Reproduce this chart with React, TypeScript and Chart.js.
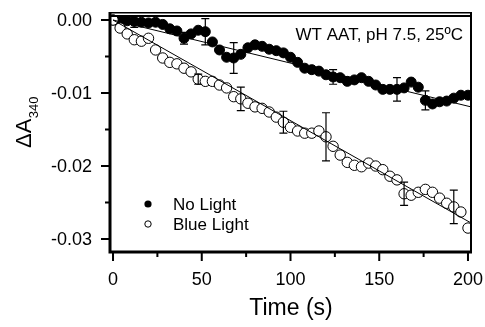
import React, { useEffect, useRef } from 'react';
import { Chart, registerables } from 'chart.js';

Chart.register(...registerables);

const times = [0, 4, 8, 12, 16, 20, 24, 28, 32, 36, 40, 44, 48, 52, 56, 60, 64, 68, 72, 76, 80, 84, 88, 92, 96, 100, 104, 108, 112, 116, 120, 124, 128, 132, 136, 140, 144, 148, 152, 156, 160, 164, 168, 172, 176, 180, 184, 188, 192, 196, 200];
const noLight = [0, -0.0001, -0.0001, -0.0002, -0.0003, -0.0004, -0.0003, -0.0006, -0.0012, -0.0015, -0.0025, -0.0019, -0.0014, -0.0016, -0.0030, -0.0041, -0.0051, -0.0052, -0.0047, -0.0038, -0.0034, -0.0036, -0.0040, -0.0042, -0.0045, -0.0051, -0.0058, -0.0066, -0.0068, -0.0070, -0.0075, -0.0078, -0.0079, -0.0084, -0.0082, -0.0079, -0.0084, -0.0089, -0.0095, -0.0095, -0.0095, -0.0093, -0.0085, -0.0092, -0.0110, -0.0115, -0.0112, -0.0111, -0.0107, -0.0103, -0.0103];
const blueLight = [0, -0.0011, -0.0019, -0.0027, -0.0029, -0.0025, -0.0041, -0.0052, -0.0058, -0.0060, -0.0066, -0.0071, -0.0081, -0.0084, -0.0084, -0.0089, -0.0093, -0.0105, -0.0108, -0.0114, -0.0119, -0.0121, -0.0126, -0.0133, -0.0140, -0.0147, -0.0152, -0.0155, -0.0155, -0.0152, -0.0160, -0.0173, -0.0185, -0.0195, -0.0199, -0.0201, -0.0196, -0.0200, -0.0205, -0.0214, -0.0219, -0.0238, -0.0240, -0.0236, -0.0232, -0.0236, -0.0244, -0.0251, -0.0256, -0.0263, -0.0285];

const noLightErrTimes = [12, 40, 52, 68, 124, 160, 176];
const noLightErr = [0.0008, 0.0008, 0.0018, 0.0021, 0.001, 0.0016, 0.0013];
const blueErrTimes = [48, 72, 96, 120, 164, 192];
const blueErr = [0.0007, 0.0016, 0.0015, 0.0033, 0.0016, 0.0023];

const fitTimes = [0, 201.7];
const noLightFit = [0, -0.0119];
const blueFit = [0, -0.0278];

const xTicks = [0, 50, 100, 150, 200];
const xMinorTicks = [25, 75, 125, 175];
const yTicks = [0, -0.01, -0.02, -0.03];
const yMinorTicks = [-0.005, -0.015, -0.025];

const seriesNames = ['No Light', 'Blue Light'];
const annotation = 'WT AAT, pH 7.5, 25ºC';
const xTitle = 'Time (s)';
const yTitleMain = 'ΔA';
const yTitleSub = '340';

const FONT = "'Liberation Sans', Arial, sans-serif";

export default function App() {
  const ref = useRef<HTMLCanvasElement | null>(null);

  useEffect(() => {
    const canvas = ref.current;
    if (!canvas) return;

    const decor = {
      id: 'decor',
      afterDatasetsDraw(chart: any) {
        const { ctx, chartArea, scales } = chart;
        const xs = scales.x;
        const ys = scales.y;
        ctx.save();
        ctx.strokeStyle = '#000';
        ctx.fillStyle = '#000';

        // error bars
        const drawErr = (ts: number[], errs: number[], vals: number[]) => {
          ts.forEach((t, i) => {
            const idx = times.indexOf(t);
            const v = vals[idx];
            const px = xs.getPixelForValue(t);
            const y1 = ys.getPixelForValue(v + errs[i]);
            const y2 = ys.getPixelForValue(v - errs[i]);
            ctx.lineWidth = 1.2;
            ctx.beginPath();
            ctx.moveTo(px, y1);
            ctx.lineTo(px, y2);
            ctx.moveTo(px - 4, y1);
            ctx.lineTo(px + 4, y1);
            ctx.moveTo(px - 4, y2);
            ctx.lineTo(px + 4, y2);
            ctx.stroke();
          });
        };
        drawErr(noLightErrTimes, noLightErr, noLight);
        drawErr(blueErrTimes, blueErr, blueLight);

        // frame
        const { left, right, top, bottom } = chartArea;
        ctx.lineWidth = 3;
        ctx.beginPath();
        ctx.moveTo(left, top);
        ctx.lineTo(left, bottom + 1.5);
        ctx.moveTo(left - 1.5, bottom);
        ctx.lineTo(right + 1, bottom);
        ctx.stroke();
        ctx.lineWidth = 2;
        ctx.beginPath();
        ctx.moveTo(right, top);
        ctx.lineTo(right, bottom);
        ctx.stroke();
        ctx.lineWidth = 1.5;
        ctx.beginPath();
        ctx.moveTo(left, top + 0.75);
        ctx.lineTo(right + 1, top + 0.75);
        ctx.stroke();
        ctx.lineWidth = 1.8;
        ctx.beginPath();
        ctx.moveTo(left, top + 4);
        ctx.lineTo(right, top + 4);
        ctx.stroke();

        // ticks
        ctx.lineWidth = 2;
        ctx.beginPath();
        yTicks.forEach((v) => {
          const py = ys.getPixelForValue(v);
          ctx.moveTo(left - 9, py);
          ctx.lineTo(left, py);
        });
        yMinorTicks.forEach((v) => {
          const py = ys.getPixelForValue(v);
          ctx.moveTo(left - 5, py);
          ctx.lineTo(left, py);
        });
        xTicks.forEach((v) => {
          const px = xs.getPixelForValue(v);
          ctx.moveTo(px, bottom);
          ctx.lineTo(px, bottom + 9);
        });
        xMinorTicks.forEach((v) => {
          const px = xs.getPixelForValue(v);
          ctx.moveTo(px, bottom);
          ctx.lineTo(px, bottom + 5);
        });
        ctx.stroke();

        // tick labels
        ctx.font = `18px ${FONT}`;
        ctx.textBaseline = 'middle';
        ctx.textAlign = 'right';
        yTicks.forEach((v) => {
          ctx.fillText(v.toFixed(2), left - 18, ys.getPixelForValue(v) + 1);
        });
        ctx.textAlign = 'center';
        xTicks.forEach((v) => {
          ctx.fillText(String(v), xs.getPixelForValue(v), bottom + 28);
        });

        // annotation
        ctx.textBaseline = 'alphabetic';
        ctx.font = `17px ${FONT}`;
        ctx.textAlign = 'right';
        ctx.fillText(annotation, right - 8, top + 28);

        // legend
        ctx.textAlign = 'left';
        ctx.font = `17px ${FONT}`;
        ctx.beginPath();
        ctx.arc(148, 204, 3.6, 0, Math.PI * 2);
        ctx.fill();
        ctx.fillText(seriesNames[0], 173, 210);
        ctx.beginPath();
        ctx.lineWidth = 1;
        ctx.arc(148, 224, 3.2, 0, Math.PI * 2);
        ctx.fillStyle = '#fff';
        ctx.fill();
        ctx.stroke();
        ctx.fillStyle = '#000';
        ctx.fillText(seriesNames[1], 173, 230);

        // y title
        ctx.save();
        ctx.translate(31, 148);
        ctx.rotate(-Math.PI / 2);
        ctx.font = `22px ${FONT}`;
        ctx.textAlign = 'left';
        ctx.fillText(yTitleMain, 0, 0);
        const w = ctx.measureText(yTitleMain).width;
        ctx.font = `13px ${FONT}`;
        ctx.fillText(yTitleSub, w + 0.5, 7);
        ctx.restore();

        // x title
        ctx.font = `23px ${FONT}`;
        ctx.textAlign = 'center';
        ctx.fillText(xTitle, 291, 315);

        ctx.restore();
      },
    };

    const chart = new Chart(canvas, {
      type: 'scatter',
      data: {
        datasets: [
          {
            label: seriesNames[0] + ' fit',
            data: fitTimes.map((t, i) => ({ x: t, y: noLightFit[i] })),
            showLine: true,
            borderColor: '#000',
            borderWidth: 1,
            pointRadius: 0,
            order: 0,
          },
          {
            label: seriesNames[1] + ' fit',
            data: fitTimes.map((t, i) => ({ x: t, y: blueFit[i] })),
            showLine: true,
            borderColor: '#000',
            borderWidth: 1,
            pointRadius: 0,
            order: 0,
          },
          {
            label: seriesNames[0],
            data: times.map((t, i) => ({ x: t, y: noLight[i] })),
            pointRadius: 5,
            pointBackgroundColor: '#000',
            pointBorderColor: '#000',
            pointBorderWidth: 1,
            order: 2,
          },
          {
            label: seriesNames[1],
            data: times.map((t, i) => ({ x: t, y: blueLight[i] })),
            pointRadius: 5.2,
            pointBackgroundColor: '#fff',
            pointBorderColor: '#000',
            pointBorderWidth: 1,
            order: 1,
          },
        ],
      },
      options: {
        responsive: false,
        animation: false,
        layout: { padding: { left: 0, top: 12, right: 14, bottom: 0 } },
        plugins: { legend: { display: false }, tooltip: { enabled: false } },
        scales: {
          x: {
            type: 'linear',
            min: -1.7,
            max: 201.7,
            afterFit: (s: any) => {
              s.height = 75;
              s.paddingLeft = 0;
              s.paddingRight = 0;
            },
            ticks: { display: false },
            grid: { display: false, drawTicks: false },
            border: { display: false },
          },
          y: {
            type: 'linear',
            min: -0.03178,
            max: 0.0011,
            afterFit: (s: any) => {
              s.width = 110;
              s.paddingTop = 0;
              s.paddingBottom = 0;
            },
            ticks: { display: false },
            grid: { display: false, drawTicks: false },
            border: { display: false },
          },
        },
      },
      plugins: [decor],
    });

    return () => chart.destroy();
  }, []);

  return (
    <div style={{ position: 'absolute', left: 0, top: 0, width: 485, height: 327, background: '#fff' }}>
      <canvas ref={ref} width={485} height={327} style={{ width: 485, height: 327, display: 'block' }} />
    </div>
  );
}
